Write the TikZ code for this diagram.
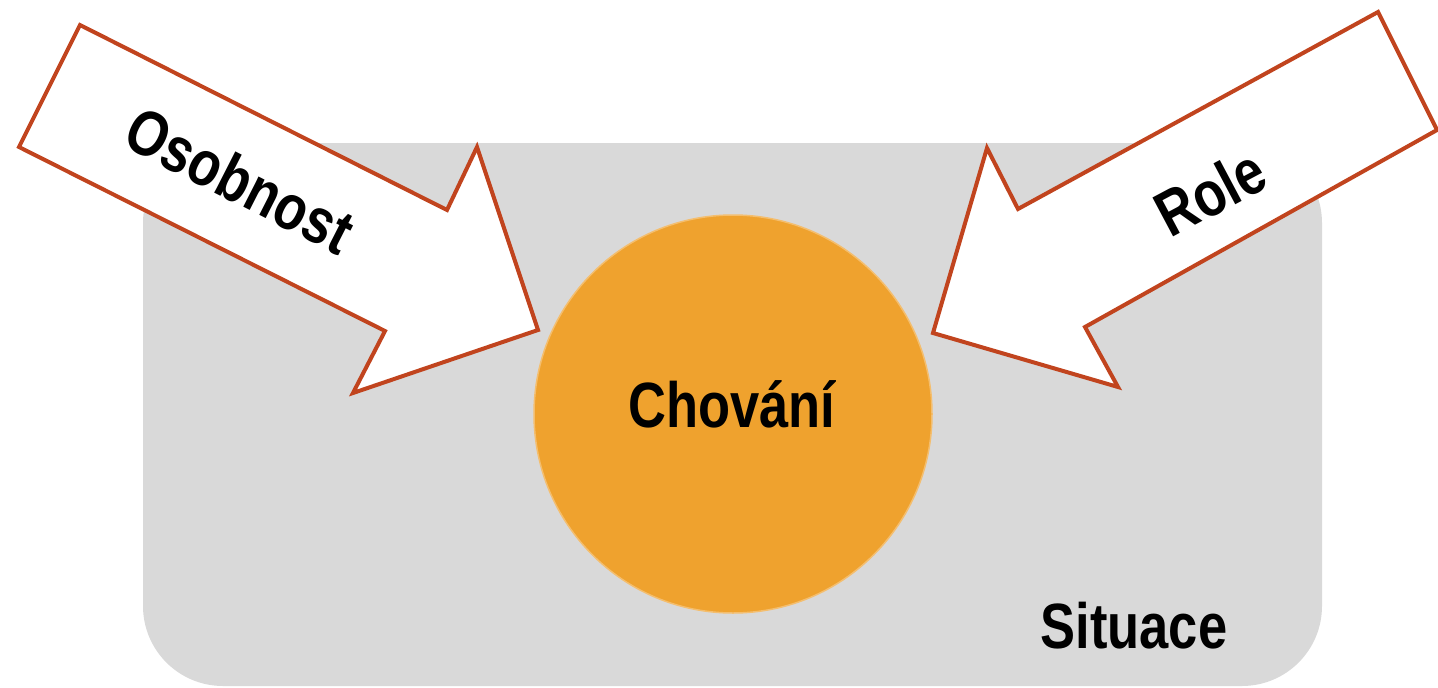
\documentclass[tikz,border=0pt]{standalone}
\usepackage{fontspec}
\setmainfont{Liberation Sans}
% horizontally condensed bold lettering
\newfontfamily\condensedsans[FakeStretch=0.82]{Liberation Sans}
\definecolor{situfill}{HTML}{D9D9D9}
\definecolor{behfill}{HTML}{EFA22E}
\definecolor{behrim}{HTML}{F4BE6E}
\definecolor{arrowline}{HTML}{C1441E}
\begin{document}
\begin{tikzpicture}[x=1pt,y=-1pt,
  lettering/.style={font=\condensedsans\fontsize{64}{70}\selectfont\bfseries, inner sep=0pt, text=black},
  bigarrow/.style={fill=white, draw=arrowline, line width=4pt, line join=miter}]
  \useasboundingbox (0,0) rectangle (1438,688);

  % the situation: grey panel
  \fill[situfill, rounded corners=80pt] (143,143) rectangle (1322,686);
  \node[lettering, anchor=base] (situace) at (1134,648) {Situace};

  % behaviour in the middle
  \node[circle, fill=behfill, draw=behrim, line width=1.5pt, minimum size=398pt, inner sep=0pt] (chovani) at (733,414) {};
  \node[lettering, anchor=base] (chovanitext) at (732,427) {Chování};

  % personality pushing in from the upper left
  \draw[bigarrow] (80,25) -- (447,210) -- (477,147) -- (538,330) -- (353,393) -- (385,331) -- (19,147) -- cycle;
  \node[lettering, rotate=-27] (osobnost) at (240,180) {Osobnost};

  % role pushing in from the upper right
  \draw[bigarrow] (1378,12) -- (1018,209) -- (987,148) -- (933,333) -- (1118,387) -- (1085,327) -- (1437,130) -- cycle;
  \node[lettering, rotate=28] (role) at (1210,192) {Role};
\end{tikzpicture}
\end{document}
